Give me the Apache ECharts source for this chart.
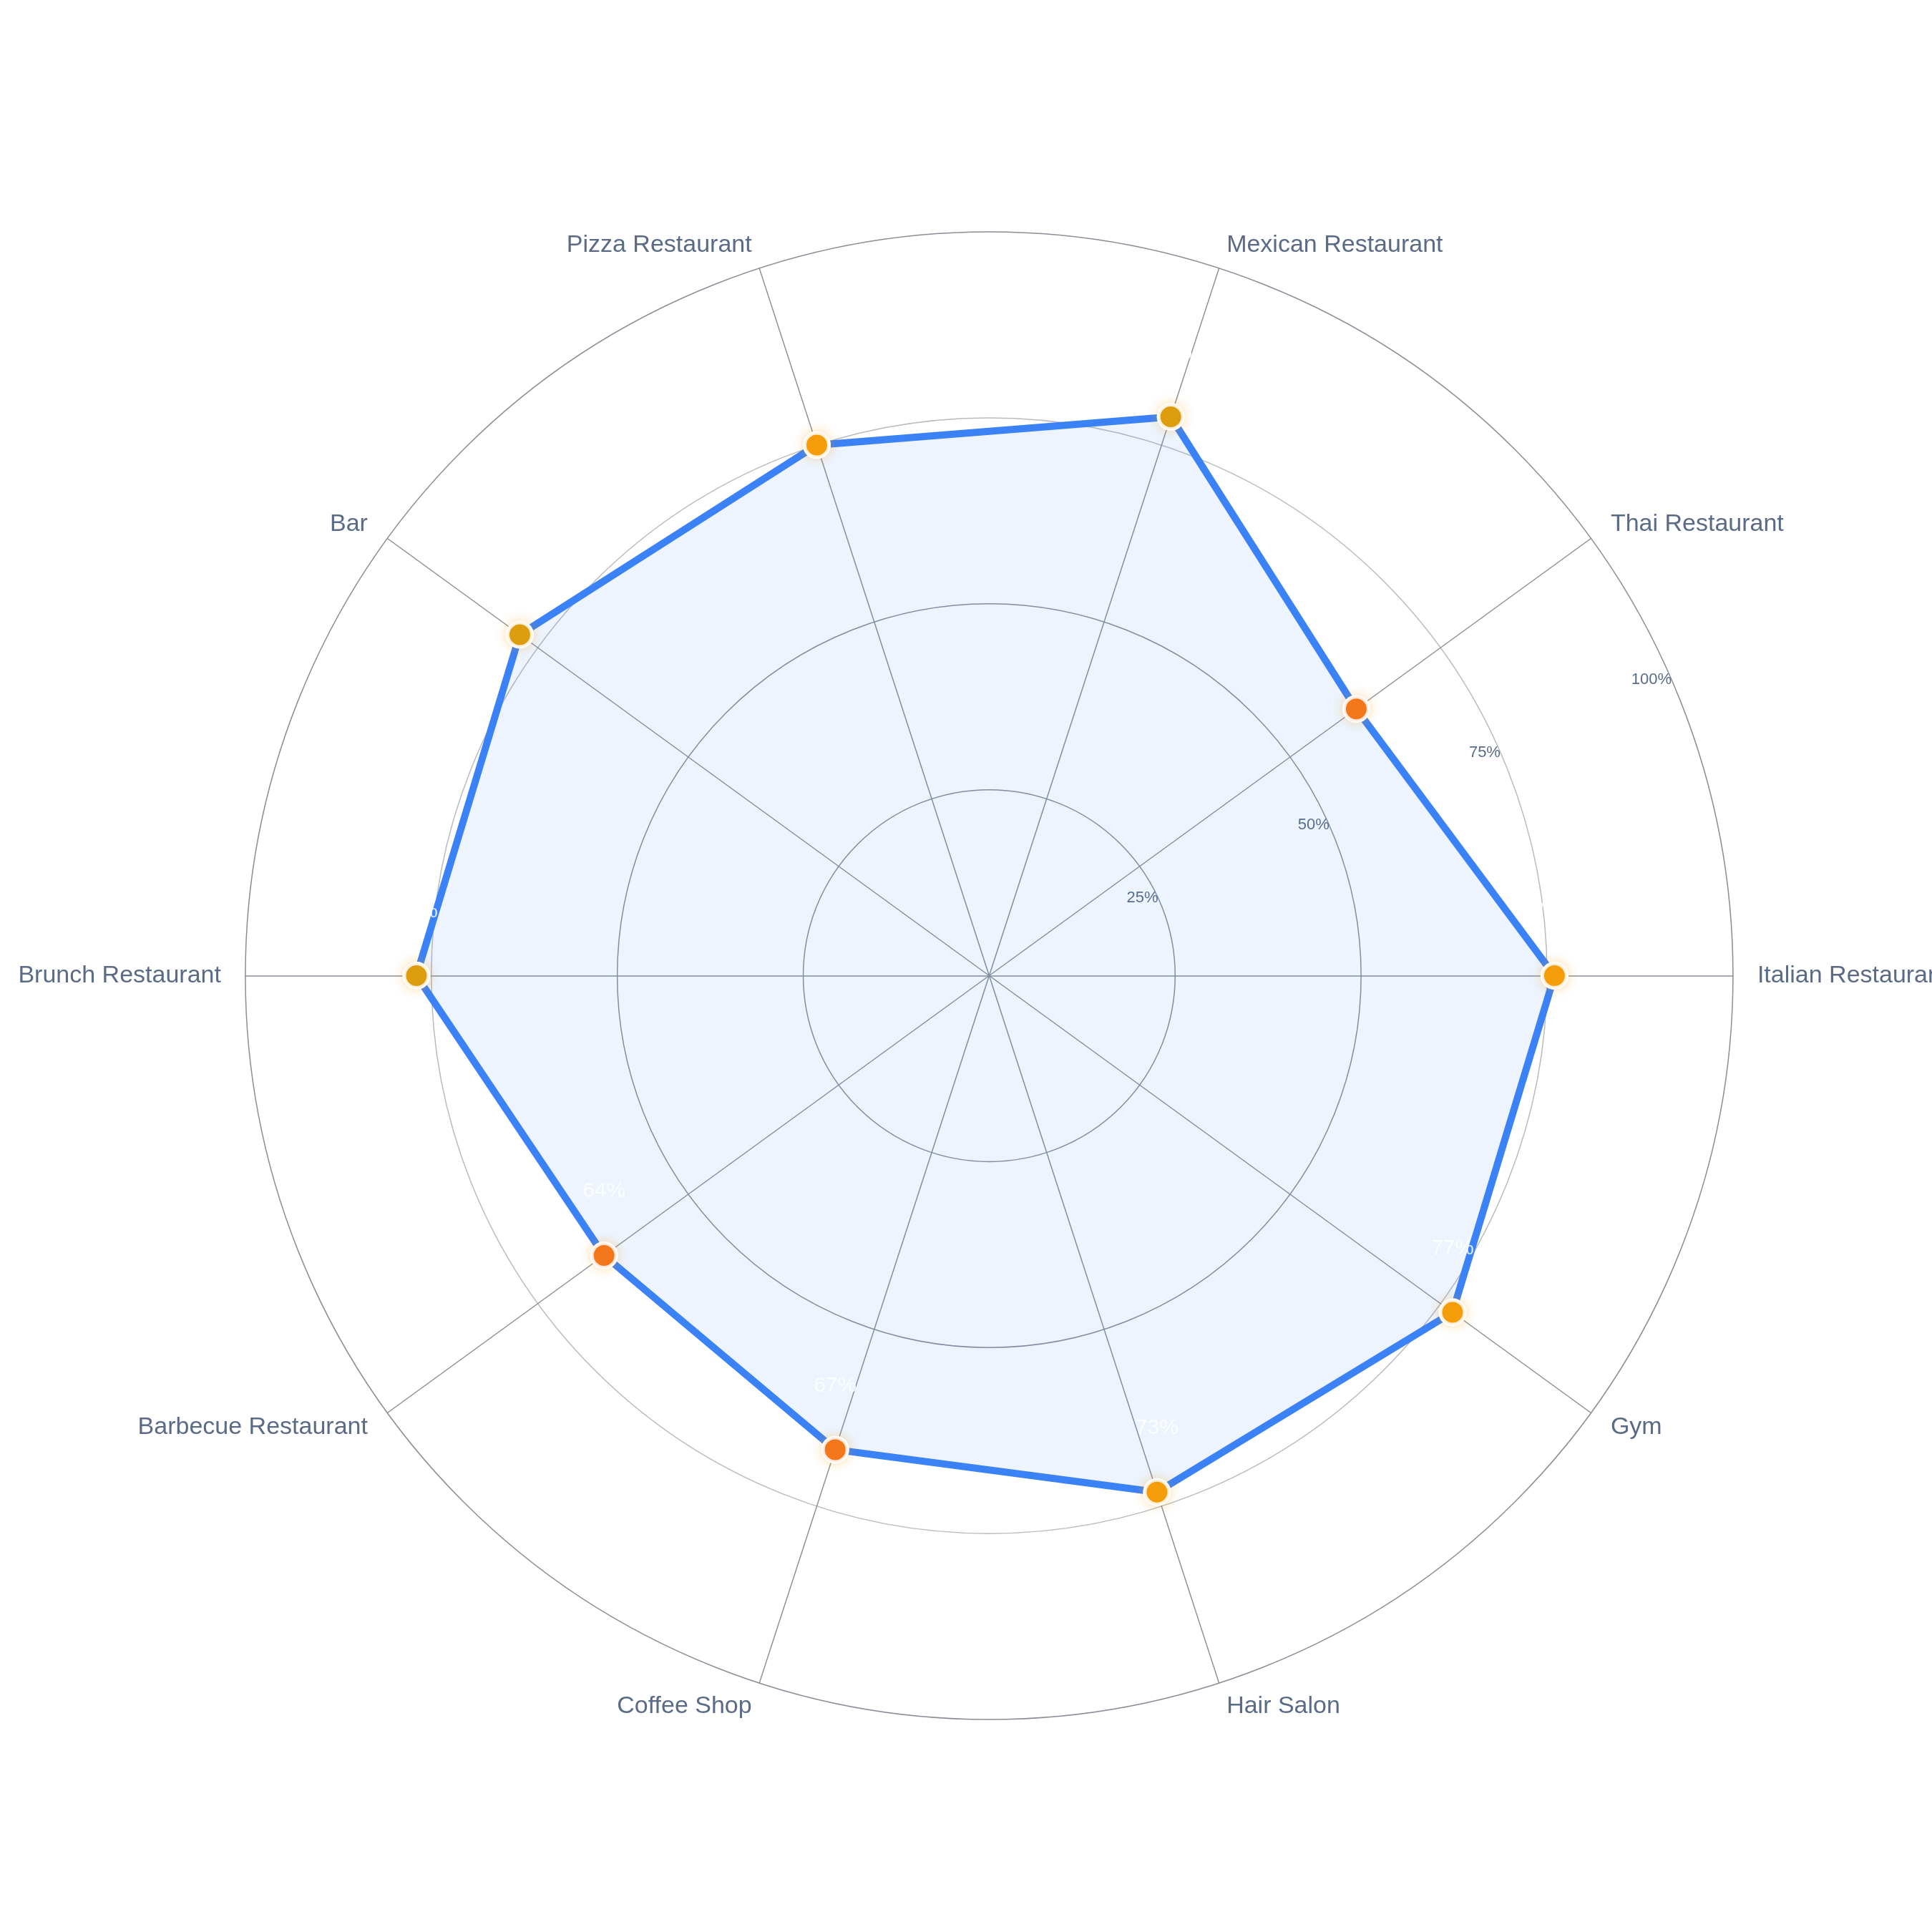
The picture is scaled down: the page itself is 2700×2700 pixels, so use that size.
<!DOCTYPE html>
<html><head><meta charset="utf-8">
<script src="https://cdn.jsdelivr.net/npm/echarts@6/dist/echarts.min.js"></script>
<style>html,body{margin:0;background:#fff}#c{width:2700px;height:2700px}</style>
</head><body><div id="c"></div>
<script>
const categories = ['Italian Restaurant','Thai Restaurant','Mexican Restaurant','Pizza Restaurant','Bar','Brunch Restaurant','Barbecue Restaurant','Coffee Shop','Hair Salon','Gym'];
const values = [76, 61, 79, 75, 78, 77, 64, 67, 73, 77];
const pointColors = ['#f59e0b','#f26b22','#d69e12','#f59e0b','#d69e12','#d69e12','#f26b22','#f26b22','#f59e0b','#f59e0b'];
const tickLabels = [25, 50, 75, 100];

const center = ['51.2%','50.5%'];
const radius = '77%';
const chart = echarts.init(document.getElementById('c'));
chart.setOption({
  backgroundColor:'#fff',
  radar:{
    center, radius, startAngle:0, shape:'circle', splitNumber:4,
    indicator: categories.map(n=>({name:n, min:0, max:100})),
    axisName:{color:'#5b6b85', fontSize:34, fontFamily:'Liberation Sans, Arial, sans-serif'},
    nameGap:34,
    splitLine:{lineStyle:{color:['#8a8e96','#8a8e96','#8a8e96','#b8bbc0'], width:1.5}},
    splitArea:{show:false},
    axisLine:{lineStyle:{color:'#8a8e96', width:1.5}},
    axisLabel:{show:false}
  },
  polar:[{center, radius},{center, radius}],
  angleAxis:[
    {polarIndex:0, startAngle:23, show:false, min:0, max:360},
    {polarIndex:1, type:'category', data:categories, startAngle:0, clockwise:false, boundaryGap:false, show:false}
  ],
  radiusAxis:[
    {polarIndex:0, min:0, max:100, interval:25,
      axisLine:{show:false}, axisTick:{show:false}, splitLine:{show:false},
      axisLabel:{color:'#5b6b85', fontSize:22, fontFamily:'Liberation Sans, Arial, sans-serif',
        formatter:v=> tickLabels.includes(v) ? v+'%' : ''}},
    {polarIndex:1, min:0, max:100, show:false}
  ],
  series:[{
    type:'radar',
    symbol:'circle', symbolSize:34,
    lineStyle:{color:'#3b82f6', width:10},
    areaStyle:{color:'rgba(59,130,246,0.13)'},
    itemStyle:{color:'#f59e0b', borderColor:'#fff', borderWidth:5},
    label:{show:true, position:'outside', distance:55, color:'rgba(255,255,255,0.85)', fontSize:30, formatter:p=>p.value+'%'},
    data:[{value: values}]
  }, {
    type:'scatter', coordinateSystem:'polar', polarIndex:1,
    symbolSize:34, z:5,
    data: values.map((v,i)=>({value:[v,i], itemStyle:{color:pointColors[i]}})),
    itemStyle:{borderColor:'#fff', borderWidth:5, shadowBlur:16, shadowColor:'rgba(245,158,11,0.35)'}
  }]
});
</script></body></html>
